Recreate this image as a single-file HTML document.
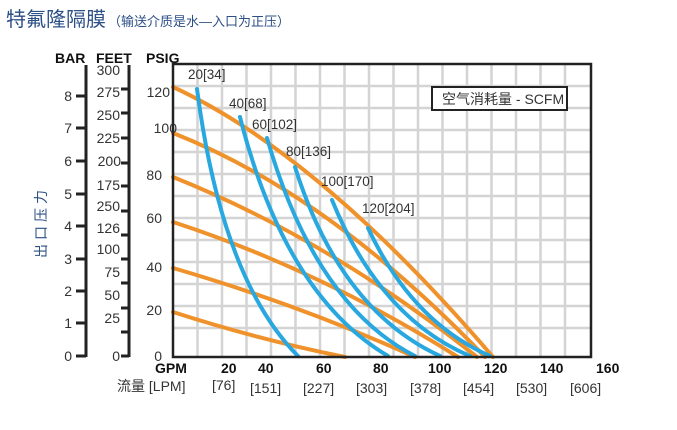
<!DOCTYPE html>
<html><head><meta charset="utf-8"><style>
html,body{margin:0;padding:0;background:#fff;width:677px;height:430px;overflow:hidden}
svg text{font-family:"Liberation Sans","Noto Sans CJK SC",sans-serif}
</style></head><body>
<svg width="677" height="430" viewBox="0 0 677 430" xmlns="http://www.w3.org/2000/svg">
<text x="6" y="26" font-size="20" fill="#2c4f86">特氟隆隔膜<tspan font-size="13" dx="2">（输送介质是水—入口为正压）</tspan></text>
<g stroke="#d4d4d4" stroke-width="2.5">
<line x1="197.5" y1="64" x2="197.5" y2="357"/><line x1="222" y1="64" x2="222" y2="357"/><line x1="246.5" y1="64" x2="246.5" y2="357"/><line x1="271" y1="64" x2="271" y2="357"/><line x1="295.5" y1="64" x2="295.5" y2="357"/><line x1="320" y1="64" x2="320" y2="357"/><line x1="344.5" y1="64" x2="344.5" y2="357"/><line x1="369" y1="64" x2="369" y2="357"/><line x1="393.5" y1="64" x2="393.5" y2="357"/><line x1="418" y1="64" x2="418" y2="357"/><line x1="442.5" y1="64" x2="442.5" y2="357"/><line x1="467" y1="64" x2="467" y2="357"/><line x1="491.5" y1="64" x2="491.5" y2="357"/><line x1="516" y1="64" x2="516" y2="357"/><line x1="540.5" y1="64" x2="540.5" y2="357"/><line x1="565" y1="64" x2="565" y2="357"/>
<line x1="173" y1="86" x2="591" y2="86"/><line x1="173" y1="108" x2="591" y2="108"/><line x1="173" y1="130" x2="591" y2="130"/><line x1="173" y1="152" x2="591" y2="152"/><line x1="173" y1="174" x2="591" y2="174"/><line x1="173" y1="196" x2="591" y2="196"/><line x1="173" y1="218" x2="591" y2="218"/><line x1="173" y1="240" x2="591" y2="240"/><line x1="173" y1="262" x2="591" y2="262"/><line x1="173" y1="284" x2="591" y2="284"/><line x1="173" y1="306" x2="591" y2="306"/><line x1="173" y1="328" x2="591" y2="328"/>
</g>
<g stroke="#f0922b" stroke-width="4" fill="none" stroke-linecap="round">
<path d="M173,87 Q320,155 493,357"/>
<path d="M173,133 Q330,195 485,357"/>
<path d="M173,177 Q330,240 477,357"/>
<path d="M173,222 Q320,270 458,357"/>
<path d="M173,268 Q300,305 415,357"/>
<path d="M173,312 Q260,340 345,357"/>
</g>
<g stroke="#29a8e0" stroke-width="4" fill="none" stroke-linecap="round">
<path d="M197,89 Q222,280 298,356"/>
<path d="M240,117 Q285,295 388,356"/>
<path d="M267,138 Q315,305 415,356"/>
<path d="M295,167 Q340,310 440,356"/>
<path d="M332,200 Q380,318 470,356"/>
<path d="M368,228 Q412,322 490,356"/>
</g>
<rect x="173" y="64" width="418" height="293" fill="none" stroke="#222" stroke-width="2.5"/>
<g font-size="13.5" fill="#333">
<text x="188" y="79">20[34]</text><text x="229" y="108">40[68]</text><text x="252" y="129">60[102]</text><text x="286" y="156">80[136]</text><text x="321" y="186">100[170]</text><text x="362" y="213">120[204]</text>
</g>
<rect x="432" y="87" width="135" height="23" fill="#fff" stroke="#222" stroke-width="2"/>
<text x="442" y="104" font-size="14" fill="#333">空气消耗量 - SCFM</text>
<g font-weight="bold" font-size="14" fill="#111"><text x="55" y="63">BAR</text><text x="96" y="63">FEET</text><text x="146" y="63">PSIG</text></g>
<line x1="86" y1="65" x2="86" y2="357" stroke="#222" stroke-width="3"/>
<line x1="129" y1="65" x2="129" y2="357" stroke="#222" stroke-width="3"/>
<g stroke="#222" stroke-width="3">
<line x1="76" y1="356" x2="86" y2="356"/><line x1="76" y1="323" x2="86" y2="323"/><line x1="76" y1="291" x2="86" y2="291"/><line x1="76" y1="259" x2="86" y2="259"/><line x1="76" y1="226" x2="86" y2="226"/><line x1="76" y1="194" x2="86" y2="194"/><line x1="76" y1="161" x2="86" y2="161"/><line x1="76" y1="128" x2="86" y2="128"/><line x1="76" y1="96" x2="86" y2="96"/>
<line x1="121" y1="89" x2="129" y2="89"/><line x1="121" y1="113" x2="129" y2="113"/><line x1="121" y1="138" x2="129" y2="138"/><line x1="121" y1="163" x2="129" y2="163"/><line x1="121" y1="186" x2="129" y2="186"/><line x1="121" y1="211" x2="129" y2="211"/><line x1="121" y1="235" x2="129" y2="235"/><line x1="121" y1="259" x2="129" y2="259"/><line x1="121" y1="283" x2="129" y2="283"/><line x1="121" y1="308" x2="129" y2="308"/><line x1="121" y1="332" x2="129" y2="332"/><line x1="121" y1="356" x2="129" y2="356"/>
</g>
<g font-size="14" fill="#333" text-anchor="end">
<text x="72" y="361">0</text><text x="72" y="328">1</text><text x="72" y="296">2</text><text x="72" y="264">3</text><text x="72" y="231">4</text><text x="72" y="199">5</text><text x="72" y="166">6</text><text x="72" y="133">7</text><text x="72" y="101">8</text>
<text x="120" y="75">300</text><text x="120" y="97">275</text><text x="120" y="120">250</text><text x="120" y="143">225</text><text x="121" y="166">200</text><text x="120" y="190">175</text><text x="120" y="211">250</text><text x="120" y="233">126</text><text x="120" y="254">100</text><text x="120" y="277">75</text><text x="120" y="300">50</text><text x="120" y="323">25</text><text x="120" y="361">0</text>
<text x="170" y="97">120</text><text x="177" y="133">100</text><text x="162" y="180">80</text><text x="162" y="223">60</text><text x="162" y="272">40</text><text x="162" y="315">20</text><text x="162" y="361">0</text>
</g>
<text font-size="14" fill="#2c4f86" transform="translate(46,258) rotate(-90)" letter-spacing="4">出口压力</text>
<g font-size="14" font-weight="bold" fill="#111">
<text x="155" y="373">GPM</text><text x="221" y="373">20</text><text x="258" y="373">40</text><text x="316" y="373">60</text><text x="373" y="373">80</text><text x="428" y="373">100</text><text x="484" y="373">120</text><text x="540" y="373">140</text><text x="596" y="373">160</text>
</g>
<g font-size="14" fill="#333">
<text x="117" y="391">流量 [LPM]</text><text x="212" y="390">[76]</text><text x="250" y="393">[151]</text><text x="303" y="393">[227]</text><text x="356" y="393">[303]</text><text x="410" y="393">[378]</text><text x="463" y="393">[454]</text><text x="516" y="393">[530]</text><text x="570" y="393">[606]</text>
</g>
</svg>
</body></html>
